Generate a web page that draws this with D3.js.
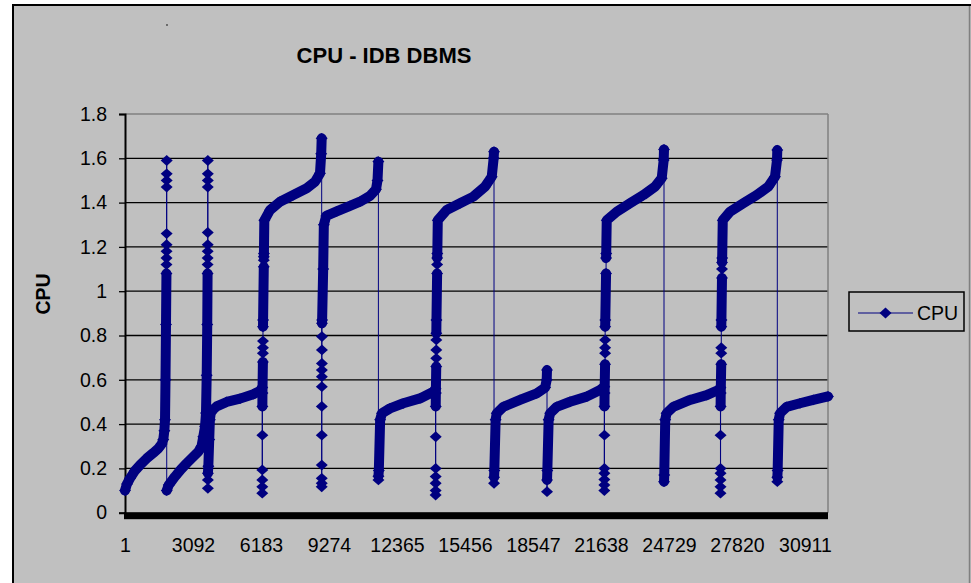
<!DOCTYPE html>
<html><head><meta charset="utf-8">
<script src="https://cdn.jsdelivr.net/npm/d3@7"></script>
<style>
html,body{margin:0;padding:0;background:#fff;}
svg{display:block;}
</style>
</head><body><svg id="c" width="971" height="583"></svg>
<script>
const chartTitle = "CPU - IDB DBMS";
const yAxisTitle = "CPU";
const seriesName = "CPU";
const xTickValues = [1, 3092, 6183, 9274, 12365, 15456, 18547, 21638, 24729, 27820, 30911];
const yTickValues = [0, 0.2, 0.4, 0.6, 0.8, 1, 1.2, 1.4, 1.6, 1.8];
const pointCount = 31959;

// Samples [point number, CPU], run by run
const run01 = [[1,0.10],[92,0.13],[228,0.155],[456,0.19],[683,0.215],[987,0.245],[1289,0.27],[1515,0.29],[1669,0.31],[1741,0.33],[1790,0.37],[1820,0.42],[1842,0.60],[1865,0.85],[1885,1.08],[1886,1.12],[1888,1.15],[1890,1.18],[1892,1.21],[1893,1.26],[1894,1.47],[1895,1.50],[1896,1.53],[1897,1.59]];
const run02 = [[1898,0.10],[1990,0.125],[2274,0.163],[2540,0.195],[2806,0.223],[3080,0.25],[3333,0.275],[3480,0.30],[3560,0.343],[3640,0.39],[3683,0.45],[3715,0.62],[3740,0.85],[3755,1.08],[3756,1.12],[3758,1.15],[3760,1.18],[3762,1.21],[3763,1.265],[3764,1.47],[3765,1.50],[3766,1.53],[3767,1.59]];
const run03 = [[3768,0.11],[3769,0.148],[3770,0.178],[3790,0.21],[3830,0.33],[3860,0.42],[3900,0.45],[4000,0.465],[4170,0.48],[4624,0.50],[5229,0.515],[5833,0.535],[6138,0.55],[6240,0.565]];
const run04 = [[6241,0.088],[6242,0.117],[6243,0.148],[6244,0.193],[6245,0.35],[6246,0.48],[6250,0.54],[6270,0.68],[6271,0.72],[6272,0.745],[6273,0.775],[6274,0.84],[6278,0.87],[6310,1.11],[6311,1.14],[6312,1.155],[6316,1.17],[6335,1.32],[6592,1.366],[7047,1.404],[7652,1.434],[8260,1.465],[8637,1.494],[8865,1.532],[8920,1.62],[8942,1.69]];
const run05 = [[8943,0.117],[8944,0.133],[8945,0.155],[8946,0.215],[8947,0.35],[8948,0.48],[8949,0.569],[8950,0.614],[8951,0.644],[8952,0.674],[8953,0.735],[8954,0.795],[8955,0.855],[8962,0.87],[9010,1.10],[9040,1.30],[9150,1.34],[9624,1.36],[10229,1.385],[10684,1.404],[11138,1.43],[11411,1.46],[11480,1.50],[11520,1.585]];
const run06 = [[11521,0.148],[11522,0.165],[11540,0.19],[11600,0.42],[11684,0.449],[12048,0.471],[12653,0.494],[13412,0.516],[14017,0.546],[14120,0.56]];
const run07 = [[14121,0.08],[14122,0.10],[14123,0.133],[14124,0.163],[14125,0.20],[14126,0.343],[14127,0.48],[14132,0.54],[14150,0.66],[14151,0.697],[14152,0.735],[14153,0.78],[14154,0.81],[14160,0.87],[14190,1.08],[14191,1.12],[14192,1.15],[14198,1.17],[14220,1.32],[14626,1.367],[15231,1.397],[15835,1.427],[16367,1.472],[16672,1.517],[16760,1.60],[16776,1.63]];
const run08 = [[16777,0.133],[16778,0.16],[16790,0.19],[16850,0.42],[16900,0.449],[17199,0.478],[17958,0.509],[18717,0.539],[19100,0.565],[19171,0.60],[19185,0.644]];
const run09 = [[19186,0.095],[19187,0.148],[19200,0.19],[19260,0.42],[19330,0.449],[19626,0.478],[20230,0.501],[20989,0.524],[21594,0.554],[21790,0.569]];
const run10 = [[21791,0.10],[21792,0.125],[21793,0.15],[21794,0.178],[21795,0.20],[21796,0.35],[21797,0.48],[21802,0.54],[21825,0.67],[21826,0.72],[21827,0.745],[21828,0.78],[21829,0.84],[21835,0.87],[21870,1.08],[21871,1.15],[21877,1.17],[21900,1.32],[22354,1.359],[22958,1.397],[23563,1.434],[24095,1.472],[24399,1.51],[24490,1.592],[24504,1.64]];
const run11 = [[24505,0.14],[24515,0.17],[24560,0.42],[24620,0.449],[24926,0.478],[25686,0.509],[26445,0.531],[26972,0.554],[27070,0.565]];
const run12 = [[27071,0.088],[27072,0.117],[27073,0.148],[27074,0.178],[27075,0.20],[27076,0.35],[27077,0.48],[27082,0.54],[27105,0.67],[27106,0.72],[27107,0.745],[27108,0.84],[27114,0.87],[27140,1.06],[27141,1.10],[27142,1.13],[27148,1.15],[27175,1.32],[27503,1.359],[28108,1.397],[28717,1.434],[29245,1.472],[29549,1.517],[29640,1.592],[29654,1.637]];
const run13 = [[29655,0.14],[29656,0.16],[29670,0.19],[29720,0.42],[29780,0.449],[30081,0.478],[30686,0.494],[31290,0.509],[31959,0.525]];

const runs = [run01, run02, run03, run04, run05, run06, run07, run08, run09, run10, run11, run12, run13];
const points = runs.flat().map(([i, v]) => ({ i, v }));

const FONT = "'Liberation Sans', Arial, sans-serif";
const NAVY = "#000080";
const svg = d3.select("#c");

// chart area
svg.append("rect").attr("x", 13).attr("y", 5).attr("width", 958).attr("height", 583).attr("fill", "#c0c0c0");
svg.append("line").attr("x1", 13).attr("x2", 971).attr("y1", 5).attr("y2", 5).attr("stroke", "#000").attr("stroke-width", 2);
svg.append("line").attr("x1", 13).attr("x2", 13).attr("y1", 4).attr("y2", 583).attr("stroke", "#000").attr("stroke-width", 2);
svg.append("line").attr("x1", 969.5).attr("x2", 969.5).attr("y1", 6).attr("y2", 583).attr("stroke", "#808080").attr("stroke-width", 1.5);
svg.append("circle").attr("cx", 167).attr("cy", 25).attr("r", 0.9).attr("fill", "#444");

const L = 125, R = 828, T = 114, B = 512.7;
const x = d3.scaleLinear().domain([1, pointCount]).range([L, R]);
const y = d3.scaleLinear().domain([0, 1.8]).range([B, T]);

// gridlines
svg.append("g").selectAll("line").data(yTickValues.filter(v => v > 0)).join("line")
  .attr("x1", L).attr("x2", R).attr("y1", d => y(d)).attr("y2", d => y(d))
  .attr("stroke", d => d === 1.8 ? "#808080" : "#000").attr("stroke-width", d => d === 1.8 ? 1.5 : 1.3);
svg.append("line").attr("x1", R).attr("x2", R).attr("y1", T).attr("y2", B).attr("stroke", "#808080").attr("stroke-width", 1.5);

// y axis
const yAxis = svg.append("g").attr("transform", `translate(${L},0)`)
  .call(d3.axisLeft(y).tickValues(yTickValues).tickSize(6).tickPadding(12).tickFormat(v => String(+v.toFixed(1))));
yAxis.select(".domain").attr("stroke", "#000").attr("stroke-width", 2);
yAxis.selectAll(".tick line").attr("stroke", "#000").attr("stroke-width", 1.3);
yAxis.selectAll("text").attr("font-family", FONT).attr("font-size", 19.5).attr("fill", "#000");

// x axis
const xAxis = svg.append("g").attr("transform", `translate(0,${B})`)
  .call(d3.axisBottom(x).tickValues(xTickValues).tickSize(0).tickPadding(25).tickFormat(d => String(d)));
xAxis.select(".domain").remove();
xAxis.selectAll("text").attr("font-family", FONT).attr("font-size", 19.5).attr("fill", "#000");
svg.append("rect").attr("x", L - 1).attr("y", B - 0.5).attr("width", R - L + 1).attr("height", 7).attr("fill", "#000");

// series: thin line through every point
const line = d3.line().x(d => x(d.i)).y(d => y(d.v));
svg.append("path").datum(points).attr("d", line).attr("fill", "none").attr("stroke", NAVY).attr("stroke-width", 1);

// stretches where many points lie between samples: markers merge into a band
const bands = [];
let cur = null;
for (let k = 1; k < points.length; k++) {
  const a = points[k - 1], b = points[k];
  if (b.i - a.i > 2) { if (!cur) { cur = [a]; bands.push(cur); } cur.push(b); }
  else cur = null;
}
svg.append("g").selectAll("path").data(bands).join("path")
  .attr("d", line).attr("fill", "none").attr("stroke", NAVY)
  .attr("stroke-width", 10).attr("stroke-linejoin", "round").attr("stroke-linecap", "round");

const diamond = "M0,-5.4L6,0L0,5.4L-6,0Z";
svg.append("g").selectAll("path").data(points).join("path")
  .attr("d", diamond).attr("transform", d => `translate(${x(d.i)},${y(d.v)})`).attr("fill", NAVY);

// titles
svg.append("text").attr("x", 384).attr("y", 63).attr("text-anchor", "middle")
  .attr("font-family", FONT).attr("font-weight", "bold").attr("font-size", 22).text(chartTitle);
svg.append("text").attr("transform", "translate(50,294) rotate(-90)").attr("text-anchor", "middle")
  .attr("font-family", FONT).attr("font-weight", "bold").attr("font-size", 19.5).text(yAxisTitle);

// legend
const lg = svg.append("g");
lg.append("rect").attr("x", 849).attr("y", 292).attr("width", 115).attr("height", 39)
  .attr("fill", "none").attr("stroke", "#000").attr("stroke-width", 1.5);
lg.append("line").attr("x1", 858).attr("x2", 913).attr("y1", 313).attr("y2", 313).attr("stroke", NAVY).attr("stroke-width", 1);
lg.append("path").attr("d", diamond).attr("transform", "translate(885.5,313)").attr("fill", NAVY);
lg.append("text").attr("x", 917).attr("y", 320).attr("font-family", FONT).attr("font-size", 19.5).text(seriesName);
</script>
</body></html>
